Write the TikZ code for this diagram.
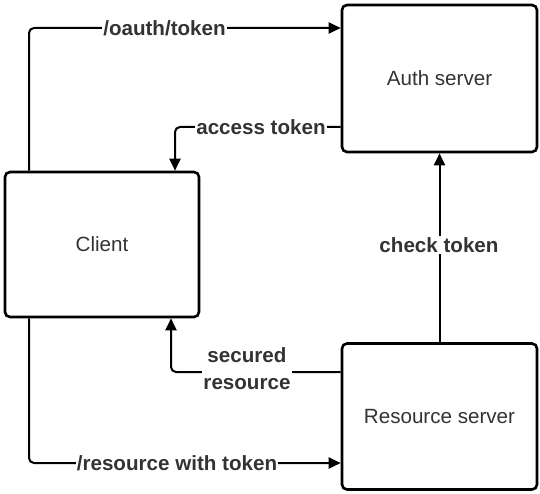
\documentclass[tikz,border=0pt]{standalone}
\usepackage{fontspec}
\setmainfont{Liberation Sans}
\usetikzlibrary{arrows.meta}
\definecolor{txt}{HTML}{333333}
\tikzset{
  box/.style={draw=black, line width=2.6pt, rounded corners=5pt, fill=white,
    inner sep=0pt, font=\fontsize{20.6}{23}\selectfont, text=txt},
  conn/.style={draw=black, line width=2pt, rounded corners=5pt},
  arr/.style={conn, -{Triangle[length=12pt,width=11pt]}},
  lbl/.style={fill=white, inner sep=1.2pt, font=\bfseries\fontsize{20.6}{27}\selectfont, text=txt, align=center}
}
\begin{document}
\begin{tikzpicture}[x=1pt,y=-1pt]
\useasboundingbox (0,0) rectangle (540,494);
\node[box, minimum width=194pt, minimum height=145pt] (client) at (102,244.5) {Client};
\node[box, minimum width=195pt, minimum height=147pt] (auth) at (439.5,78.5) {Auth server};
\node[box, minimum width=195pt, minimum height=146pt] (res) at (439.5,416.5) {Resource server};
\coordinate (c1) at (29,28);
\coordinate (c2) at (175,127);
\coordinate (c4) at (171,372);
\coordinate (c5) at (29,463);
\draw[arr] (client.north -| c1) |- (auth.west |- c1);
\draw[arr] (auth.west |- c2) -| (client.north -| c2);
\draw[arr] (res.north) -- (auth.south);
\draw[arr] (res.west |- c4) -| (client.south -| c4);
\draw[arr] (client.south -| c5) |- (res.west |- c5);
\node[lbl] (l1) at (164.5,28) {/oauth/token};
\node[lbl] (l2) at (261,127) {access token};
\node[lbl] (l3) at (439,245) {check token};
\node[lbl] (l4) at (247,369) {secured\\resource};
\node[lbl] (l5) at (177,463) {/resource with token};
\end{tikzpicture}
\end{document}
